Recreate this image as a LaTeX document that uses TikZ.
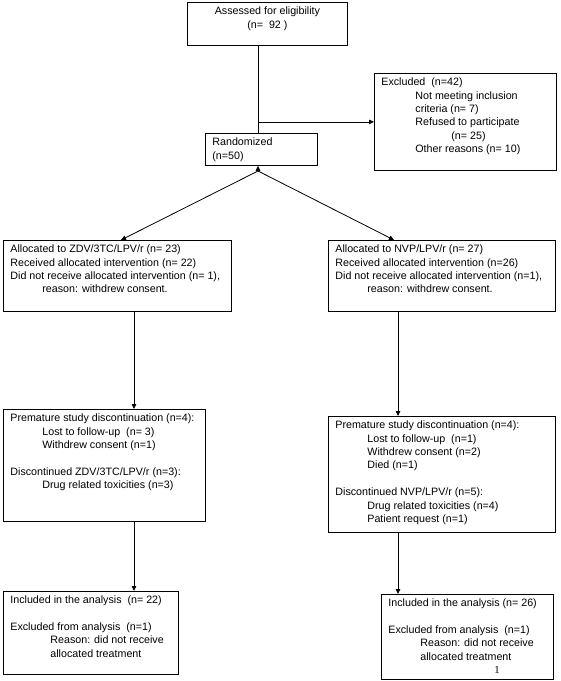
\documentclass[tikz,border=0pt]{standalone}
\usepackage{fontspec}
\setmainfont{Liberation Sans}
\newfontfamily\pagefont{Liberation Serif}
\usepackage{tikz}
\usetikzlibrary{arrows.meta}

\newcommand{\flowfont}{\fontsize{10.7}{13.4}\selectfont}
\newcommand{\boxtext}[3]{\parbox[t][#2][t]{#1}{\raggedright #3}}
\newcommand{\ind}{\hspace*{32pt}}

\begin{document}
\begin{tikzpicture}[x=1pt,y=-1pt,>={Triangle[length=5pt,width=4.5pt]},
                    line width=0.8pt,
                    every node/.style={font=\flowfont},
                    flowbox/.style={draw,anchor=north west,inner xsep=7pt,inner ysep=4.5pt}]
\useasboundingbox (0,0) rectangle (561,681);

\node[flowbox] (assess) at (187,2) {\parbox[t][34pt][t]{146pt}{\centering Assessed for eligibility\\ (n=\ \ 92 )}};
\node[flowbox] (excl) at (374,73) {\boxtext{168pt}{88pt}{Excluded\ \ (n=42)\\
  \hspace*{34pt}Not meeting inclusion\\
  \hspace*{34pt}criteria (n= 7)\\
  \hspace*{34pt}Refused to participate\\
  \hspace*{70pt}(n= 25)\\
  \hspace*{34pt}Other reasons (n= 10)}};
\node[flowbox] (rand) at (205,133) {\boxtext{98pt}{23pt}{Randomized\\ (n=50)}};

\node[flowbox] (allocL) at (3,240) {\boxtext{214pt}{62pt}{Allocated to ZDV/3TC/LPV/r (n= 23)\\
  Received allocated intervention (n= 22)\\
  Did not receive allocated intervention (n= 1),\\
  \ind reason: withdrew consent.}};
\node[flowbox] (allocR) at (328,240) {\boxtext{213pt}{62pt}{Allocated to NVP/LPV/r (n= 27)\\
  Received allocated intervention (n=26)\\
  Did not receive allocated intervention (n=1),\\
  \ind reason: withdrew consent.}};

\node[flowbox] (premL) at (3,409) {\boxtext{188pt}{103pt}{Premature study discontinuation (n=4):\\
  \ind Lost to follow-up\ \ (n= 3)\\
  \ind Withdrew consent (n=1)\\ ~\\
  Discontinued ZDV/3TC/LPV/r (n=3):\\
  \ind Drug related toxicities (n=3)}};
\node[flowbox] (premR) at (328,416) {\boxtext{213pt}{107pt}{Premature study discontinuation (n=4):\\
  \ind Lost to follow-up\ \ (n=1)\\
  \ind Withdrew consent (n=2)\\
  \ind Died (n=1)\\ ~\\
  Discontinued NVP/LPV/r (n=5):\\
  \ind Drug related toxicities (n=4)\\
  \ind Patient request (n=1)}};

\node[flowbox] (inclL) at (3,591) {\boxtext{161pt}{74pt}{Included in the analysis\ \ (n= 22)\\ ~\\
  Excluded from analysis\ \ (n=1)\\
  \hspace*{40pt}Reason: did not receive\\
  \hspace*{40pt}allocated treatment}};
\node[flowbox] (inclR) at (381,594) {\boxtext{158pt}{76pt}{Included in the analysis (n= 26)\\ ~\\
  Excluded from analysis\ \ (n=1)\\
  \ind Reason: did not receive\\
  \ind allocated treatment\\
  \hspace*{106pt}{\pagefont 1}}};

% column lines
\coordinate (split) at (258,171);
\coordinate (colL) at (134,0);
\coordinate (colR) at (398,0);

\draw (split |- assess.south) -- (split |- rand.north);
\draw[->] (split |- excl.west) -- (excl.west);
\draw[->] (split) -- (split |- rand.south);
\draw[->] (split) -- ([xshift=118pt]allocL.north west);
\draw[->] (split) -- ([xshift=66pt]allocR.north west);

\draw[->] (colL |- allocL.south) -- (colL |- premL.north);
\draw[->] (colL |- premL.south) -- (colL |- inclL.north);
\draw[->] (colR |- allocR.south) -- (colR |- premR.north);
\draw[->] (colR |- premR.south) -- (colR |- inclR.north);
\end{tikzpicture}
\end{document}
